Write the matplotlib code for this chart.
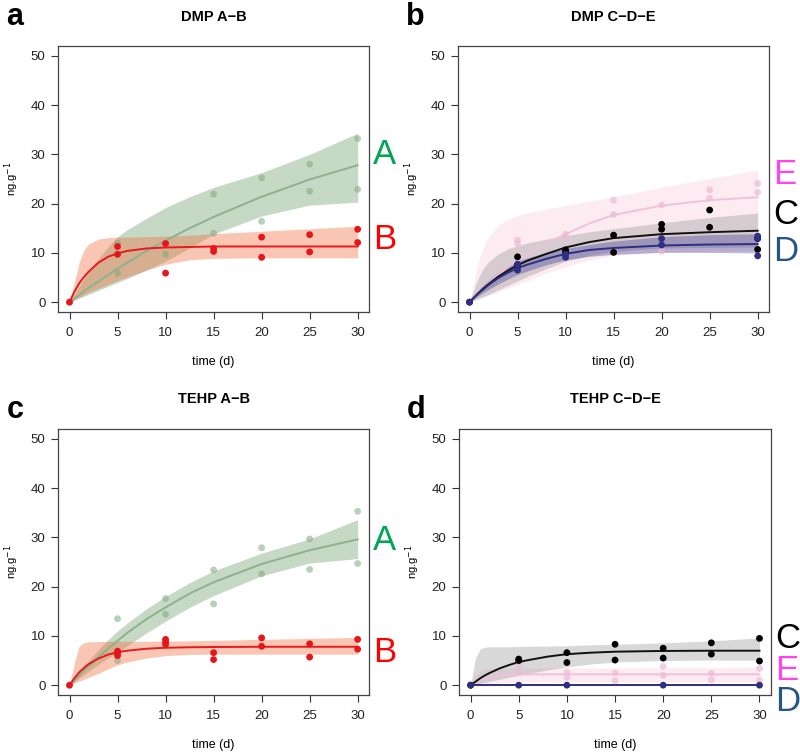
import numpy as np
import matplotlib
matplotlib.use("Agg")
import matplotlib.pyplot as plt

plt.rcParams['font.family'] = ['Liberation Sans', 'DejaVu Sans']

# time grid on which the fitted curves and confidence bands were read
t_fit = [0, 0.5, 1, 1.5, 2, 3, 4, 5, 6, 8, 10, 12.5, 15, 20, 25, 30]

# ---- DMP A-B ----
dmp_A_t = [0, 5, 5, 10, 10, 15, 15, 20, 20, 25, 25, 30, 30]
dmp_A_y = [0, 12.0, 5.9, 11.9, 9.7, 21.9, 14.0, 25.2, 16.4, 28.0, 22.5, 33.2, 22.9]
dmp_A_fit = [0, 0.7, 1.4, 2.2, 2.9, 4.2, 5.5, 6.8, 8.0, 10.4, 12.5, 15.0, 17.3, 21.4, 24.9, 27.8]
dmp_A_hi = [0, 1.6, 3.2, 4.7, 6.2, 8.8, 11.2, 13.3, 14.7, 17.0, 19.2, 21.4, 23.3, 26.3, 30.0, 34.3]
dmp_A_lo = [0, 0.4, 0.8, 1.2, 1.6, 2.4, 3.2, 4.0, 4.8, 6.5, 8.3, 11.0, 13.8, 17.5, 19.7, 20.3]

dmp_B_t = [0, 5, 5, 10, 10, 15, 15, 20, 20, 25, 25, 30, 30]
dmp_B_y = [0, 11.3, 9.7, 11.9, 5.9, 10.9, 10.3, 13.2, 9.1, 13.7, 10.2, 14.8, 12.1]
dmp_B_fit = [0, 2.1, 3.8, 5.1, 6.2, 8.0, 9.2, 9.9, 10.4, 10.9, 11.1, 11.2, 11.3, 11.3, 11.3, 11.3]
dmp_B_hi = [0, 4.0, 8.0, 10.6, 11.8, 12.8, 13.1, 13.2, 13.2, 13.3, 13.4, 13.6, 13.9, 14.4, 14.9, 15.4]
dmp_B_lo = [0, 0.5, 1.0, 1.5, 2.0, 2.8, 3.6, 4.4, 5.1, 6.5, 7.7, 8.6, 8.9, 9.0, 9.0, 9.0]

# ---- DMP C-D-E ----
dmp_C_t = [0, 5, 5, 10, 10, 15, 15, 20, 20, 25, 25, 30, 30]
dmp_C_y = [0, 9.2, 7.6, 10.6, 10.1, 13.6, 10.1, 15.8, 14.8, 18.7, 15.2, 12.9, 10.7]
dmp_C_fit = [0, 1.0, 2.0, 2.9, 3.7, 5.2, 6.4, 7.5, 8.4, 9.8, 11.1, 12.2, 13.0, 13.8, 14.2, 14.5]
dmp_C_hi = [0, 2.8, 5.3, 7.0, 8.2, 9.8, 10.8, 11.5, 12.0, 12.8, 13.5, 14.3, 14.9, 16.1, 17.2, 18.1]
dmp_C_lo = [0, 0.4, 0.8, 1.2, 1.6, 2.5, 3.4, 4.3, 5.2, 6.8, 8.3, 9.5, 10.3, 11.0, 11.1, 11.2]

dmp_D_t = [0, 5, 5, 10, 10, 20, 20, 30, 30, 30]
dmp_D_y = [0, 7.7, 6.5, 9.7, 9.1, 12.9, 11.6, 13.4, 13.0, 9.4]
dmp_D_fit = [0, 1.0, 1.9, 2.7, 3.5, 4.9, 6.0, 6.9, 7.6, 8.8, 9.8, 10.6, 11.0, 11.5, 11.7, 11.8]
dmp_D_hi = [0, 1.3, 2.5, 3.6, 4.5, 6.1, 7.3, 8.3, 9.0, 10.1, 10.9, 11.7, 12.4, 13.3, 13.7, 13.9]
dmp_D_lo = [0, 0.7, 1.4, 2.0, 2.6, 3.7, 4.7, 5.6, 6.3, 7.6, 8.6, 9.3, 9.7, 10.1, 10.1, 10.0]

dmp_E_t = [0, 5, 5, 10, 10, 15, 15, 20, 20, 25, 25, 30, 30]
dmp_E_y = [0, 12.6, 11.9, 13.8, 13.3, 20.7, 17.8, 19.7, 10.3, 22.8, 21.1, 24.1, 22.3]
dmp_E_fit = [0, 1.0, 2.0, 3.0, 3.9, 5.6, 7.2, 8.5, 9.7, 11.9, 13.8, 16.0, 17.7, 19.6, 20.7, 21.3]
dmp_E_hi = [0, 4.5, 8.8, 11.3, 13.2, 15.6, 16.8, 17.6, 18.1, 18.9, 19.6, 20.5, 21.4, 23.3, 25.1, 26.8]
dmp_E_lo = [0, 0.3, 0.7, 1.0, 1.4, 2.1, 2.8, 3.6, 4.3, 5.9, 7.2, 8.6, 9.5, 10.2, 10.4, 10.5]

# ---- TEHP A-B ----
tehp_A_t = [0, 5, 5, 10, 10, 15, 15, 20, 20, 25, 25, 30, 30]
tehp_A_y = [0, 13.5, 5.0, 17.6, 14.4, 23.4, 16.5, 27.9, 22.6, 29.7, 23.5, 35.3, 24.7]
tehp_A_fit = [0, 1.0, 2.0, 3.0, 3.9, 5.7, 7.4, 9.0, 10.6, 13.4, 15.8, 18.6, 20.9, 24.6, 27.4, 29.6]
tehp_A_hi = [0, 1.3, 2.6, 3.8, 5.0, 7.2, 9.2, 11.0, 12.6, 15.5, 18.0, 20.8, 23.2, 26.8, 29.7, 33.6]
tehp_A_lo = [0, 0.7, 1.4, 2.1, 2.8, 4.2, 5.5, 6.6, 8.0, 10.6, 13.0, 15.8, 18.2, 22.2, 24.8, 25.7]

tehp_B_t = [0, 5, 5, 5, 10, 10, 10, 15, 15, 20, 20, 25, 25, 30, 30]
tehp_B_y = [0, 6.9, 6.5, 6.0, 9.3, 8.8, 8.3, 6.6, 5.2, 9.6, 7.9, 8.4, 5.7, 9.3, 7.3]
tehp_B_fit = [0, 1.4, 2.6, 3.5, 4.3, 5.4, 6.2, 6.7, 7.0, 7.4, 7.6, 7.7, 7.75, 7.8, 7.8, 7.8]
tehp_B_hi = [0, 4.5, 7.9, 8.6, 8.8, 8.85, 8.9, 8.9, 8.9, 8.9, 8.95, 9.0, 9.1, 9.3, 9.5, 9.7]
tehp_B_lo = [0, 0.4, 0.8, 1.2, 1.6, 2.4, 3.3, 4.1, 4.7, 5.5, 6.0, 6.25, 6.3, 6.3, 6.3, 6.3]

# ---- TEHP C-D-E ----
tehp_C_t = [0, 5, 5, 10, 10, 15, 15, 20, 20, 25, 25, 30, 30]
tehp_C_y = [0, 5.3, 5.0, 6.6, 4.6, 8.3, 5.1, 7.5, 5.5, 8.6, 6.3, 9.5, 4.9]
tehp_C_fit = [0, 0.7, 1.4, 2.0, 2.5, 3.4, 4.1, 4.7, 5.1, 5.8, 6.3, 6.6, 6.8, 6.95, 7.0, 7.0]
tehp_C_hi = [0, 5.5, 7.4, 7.7, 7.8, 7.8, 7.8, 7.85, 7.9, 7.95, 8.0, 8.2, 8.3, 8.6, 9.0, 9.6]
tehp_C_lo = [0, 0.2, 0.4, 0.6, 0.8, 1.2, 1.6, 2.0, 2.4, 3.1, 3.7, 4.3, 4.7, 5.0, 5.1, 5.1]

tehp_D_t = [0, 5, 10, 20, 30]
tehp_D_y = [0, 0, 0, 0, 0]
tehp_D_fit = [0, 0, 0, 0, 0, 0, 0, 0, 0, 0, 0, 0, 0, 0, 0, 0]

tehp_E_t = [0, 5, 5, 10, 10, 15, 15, 20, 20, 25, 25, 30, 30]
tehp_E_y = [0, 4.0, 2.7, 2.6, 1.6, 2.5, 0.9, 3.8, 2.0, 2.4, 1.0, 3.4, 1.0]
tehp_E_fit = [0, 0.6, 1.1, 1.4, 1.7, 2.0, 2.1, 2.15, 2.2, 2.2, 2.2, 2.2, 2.2, 2.2, 2.2, 2.2]
tehp_E_hi = [0, 2.0, 2.9, 3.3, 3.4, 3.5, 3.5, 3.5, 3.5, 3.5, 3.5, 3.5, 3.5, 3.55, 3.6, 3.7]
tehp_E_lo = [0, 0.1, 0.2, 0.3, 0.35, 0.45, 0.55, 0.6, 0.65, 0.7, 0.7, 0.7, 0.7, 0.7, 0.7, 0.7]

# y position of the big letters on the right of each panel
label_y_a = {'A': 30.0, 'B': 12.7}
label_y_b = {'E': 25.9, 'C': 17.8, 'D': 10.3}
label_y_c = {'A': 29.3, 'B': 6.6}
label_y_d = {'C': 9.4, 'E': 2.9, 'D': -3.4}

# colours: band, line, points, label
styles = {
    'A': dict(band='#5a925a', band_alpha=0.35, line='#8fb08f', pts='#7fa97f', pts_alpha=0.55, lab='#00a651'),
    'B': dict(band='#f26b3a', band_alpha=0.38, line='#e8191f', pts='#e8141c', pts_alpha=1.0, lab='#ff0000'),
    'C': dict(band='#808080', band_alpha=0.30, line='#111111', pts='#000000', pts_alpha=1.0, lab='#000000'),
    'D': dict(band='#2b2b8c', band_alpha=0.33, line='#2e2e84', pts='#2e2e84', pts_alpha=1.0, lab='#245785'),
    'E': dict(band='#f08cb4', band_alpha=0.16, line='#efc2da', pts='#eebad4', pts_alpha=0.7, lab='#ff44ee'),
}


def draw_panel(ax, series, title, letter, label_y, letter_y):
    """series: list of (name, t_obs, y_obs, fit, hi, lo) drawn in order"""
    # bands first
    for name, t_obs, y_obs, fit, hi, lo in series:
        st = styles[name]
        if hi is not None:
            ax.fill_between(t_fit, lo, hi, color=st['band'], alpha=st['band_alpha'],
                            linewidth=0, zorder=1)
    for name, t_obs, y_obs, fit, hi, lo in series:
        st = styles[name]
        ax.plot(t_fit, fit, color=st['line'], lw=1.4, zorder=3)
        ax.scatter(t_obs, y_obs, s=24, color=st['pts'], alpha=st['pts_alpha'],
                   edgecolors='none', zorder=4)

    ax.set_xlim(-1.2, 31.2)
    ax.set_ylim(-2, 52)
    ax.set_xticks([0, 5, 10, 15, 20, 25, 30])
    ax.set_yticks([0, 10, 20, 30, 40, 50])
    ax.tick_params(direction='out', length=5, width=0.8, color='#333333',
                   labelsize=9.5, labelcolor='#222222')
    ax.tick_params(axis='x', pad=6)
    ax.tick_params(axis='y', pad=4)
    for sp in ax.spines.values():
        sp.set_color('#444444')
        sp.set_linewidth(0.9)

    ax.text(0.5, letter_y, title, transform=ax.transAxes, ha='center',
            va='center', fontsize=10.5, fontweight='bold')
    ax.text(-0.138, letter_y + (0 if letter in 'ab' else -0.04), letter,
            transform=ax.transAxes, ha='center', va='center',
            fontsize=22, fontweight='bold')
    ax.text(0.5, -0.188, 'time (d)', transform=ax.transAxes, ha='center',
            va='center', fontsize=9)
    ax.text(-0.148, 0.5, 'ng.g$^{-1}$', transform=ax.transAxes, ha='center',
            va='center', rotation=90, fontsize=8)

    for name, y in label_y.items():
        ax.text(31.6, y, name, ha='left', va='center', fontsize=25,
                color=styles[name]['lab'], clip_on=False)


fig = plt.figure(figsize=(8, 7.54), dpi=100)
ax_a = fig.add_axes([0.0725, 0.5862, 0.389, 0.3528])
ax_b = fig.add_axes([0.5725, 0.5862, 0.389, 0.3528])
ax_c = fig.add_axes([0.0725, 0.0782, 0.389, 0.3528])
ax_d = fig.add_axes([0.5738, 0.0782, 0.390, 0.3528])

draw_panel(ax_a, [
    ('A', dmp_A_t, dmp_A_y, dmp_A_fit, dmp_A_hi, dmp_A_lo),
    ('B', dmp_B_t, dmp_B_y, dmp_B_fit, dmp_B_hi, dmp_B_lo),
], 'DMP A\u2212B', 'a', label_y_a, 1.109)

draw_panel(ax_b, [
    ('E', dmp_E_t, dmp_E_y, dmp_E_fit, dmp_E_hi, dmp_E_lo),
    ('C', dmp_C_t, dmp_C_y, dmp_C_fit, dmp_C_hi, dmp_C_lo),
    ('D', dmp_D_t, dmp_D_y, dmp_D_fit, dmp_D_hi, dmp_D_lo),
], 'DMP C\u2212D\u2212E', 'b', label_y_b, 1.109)

draw_panel(ax_c, [
    ('A', tehp_A_t, tehp_A_y, tehp_A_fit, tehp_A_hi, tehp_A_lo),
    ('B', tehp_B_t, tehp_B_y, tehp_B_fit, tehp_B_hi, tehp_B_lo),
], 'TEHP A\u2212B', 'c', label_y_c, 1.113)

draw_panel(ax_d, [
    ('E', tehp_E_t, tehp_E_y, tehp_E_fit, tehp_E_hi, tehp_E_lo),
    ('C', tehp_C_t, tehp_C_y, tehp_C_fit, tehp_C_hi, tehp_C_lo),
    ('D', tehp_D_t, tehp_D_y, tehp_D_fit, None, None),
], 'TEHP C\u2212D\u2212E', 'd', label_y_d, 1.113)

fig.savefig('out.png', dpi=100)
